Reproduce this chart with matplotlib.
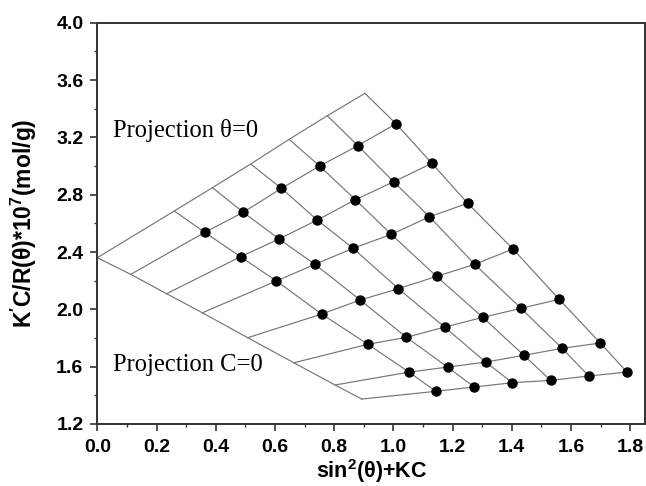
import matplotlib
matplotlib.use("Agg")
import matplotlib.pyplot as plt
from matplotlib.ticker import MultipleLocator

# ---- data (Zimm plot) ----
sin2 = [0.113, 0.234, 0.355, 0.508, 0.664, 0.803, 0.893]      # angle offsets
kc = [0.250, 0.380, 0.509, 0.638, 0.767, 0.896]                # concentration offsets
y_data = [
    [2.537, 2.677, 2.844, 3.000, 3.142, 3.295],
    [2.367, 2.491, 2.623, 2.765, 2.890, 3.019],
    [2.198, 2.314, 2.426, 2.523, 2.646, 2.740],
    [1.967, 2.065, 2.144, 2.230, 2.314, 2.421],
    [1.756, 1.805, 1.876, 1.944, 2.007, 2.070],
    [1.562, 1.597, 1.632, 1.679, 1.728, 1.765],
    [1.428, 1.458, 1.488, 1.504, 1.535, 1.562],
]
theta0_x = [0.0, 0.260, 0.389, 0.518, 0.648, 0.777, 0.904]
theta0_y = [2.36, 2.686, 2.849, 3.014, 3.186, 3.351, 3.507]
c0_x = [0.0, 0.113, 0.234, 0.355, 0.508, 0.664, 0.803, 0.893]
c0_y = [2.36, 2.244, 2.109, 1.976, 1.802, 1.627, 1.472, 1.374]

xticks = [0.0, 0.2, 0.4, 0.6, 0.8, 1.0, 1.2, 1.4, 1.6, 1.8]
yticks = [1.2, 1.6, 2.0, 2.4, 2.8, 3.2, 3.6, 4.0]

plt.rcParams['font.family'] = ['Liberation Sans', 'DejaVu Sans']
plt.rcParams['mathtext.fontset'] = 'custom'
plt.rcParams['mathtext.rm'] = 'Liberation Sans:bold'
plt.rcParams['mathtext.bf'] = 'Liberation Sans:bold'
plt.rcParams['mathtext.it'] = 'Liberation Sans:bold'

fig = plt.figure(figsize=(6.46, 4.86), dpi=100)
ax = fig.add_axes([0.1506, 0.1276, 0.8479, 0.8257])

lc = '#767676'
lw = 0.85
ax.plot(theta0_x, theta0_y, color=lc, lw=lw, zorder=2)
ax.plot(c0_x, c0_y, color=lc, lw=lw, zorder=2)
for i in range(len(sin2)):
    xs = [c0_x[i + 1]] + [sin2[i] + k for k in kc]
    ys = [c0_y[i + 1]] + list(y_data[i])
    ax.plot(xs, ys, color=lc, lw=lw, zorder=2)
for j in range(len(kc)):
    xs = [theta0_x[j + 1]] + [s + kc[j] for s in sin2]
    ys = [theta0_y[j + 1]] + [row[j] for row in y_data]
    ax.plot(xs, ys, color=lc, lw=lw, zorder=2)

px = [s + k for s in sin2 for k in kc]
py = [v for row in y_data for v in row]
ax.plot(px, py, 'o', color='black', markersize=6.5, zorder=3, linestyle='none')

ax.set_xlim(0.0, 1.85)
ax.set_ylim(1.2, 4.0)
ax.set_xticks(xticks)
ax.set_yticks(yticks)
ax.xaxis.set_minor_locator(MultipleLocator(0.1))
ax.yaxis.set_minor_locator(MultipleLocator(0.2))
ax.set_xticklabels([f"{v:.1f}" for v in xticks], fontsize=14, fontweight='bold')
ax.set_yticklabels([f"{v:.1f}" for v in yticks], fontsize=14, fontweight='bold')
ax.tick_params(which='major', direction='out', length=5, width=1.2, color='#333333', pad=5)
ax.tick_params(axis='x', which='major', pad=6)
ax.tick_params(which='minor', direction='out', length=2.5, width=1.0, color='#333333')
for s in ax.spines.values():
    s.set_linewidth(1.4)
    s.set_color('#333333')

ax.set_xlabel(r"sin$^{2}$(θ)+KC", fontsize=15.5, fontweight='bold')
ax.xaxis.set_label_coords(0.5, -0.082)
ax.set_ylabel(r"K$'$C/R(θ)*10$^{7}$(mol/g)", fontsize=16.5, fontweight='bold')
ax.yaxis.set_label_coords(-0.107, 0.5)

ax.text(0.054, 3.205, "Projection θ=0", family=['Liberation Serif', 'DejaVu Serif'],
        fontsize=17.7, va='baseline', ha='left')
ax.text(0.054, 1.572, "Projection C=0", family=['Liberation Serif', 'DejaVu Serif'],
        fontsize=17.7, va='baseline', ha='left')

fig.savefig("out.png", dpi=100)
